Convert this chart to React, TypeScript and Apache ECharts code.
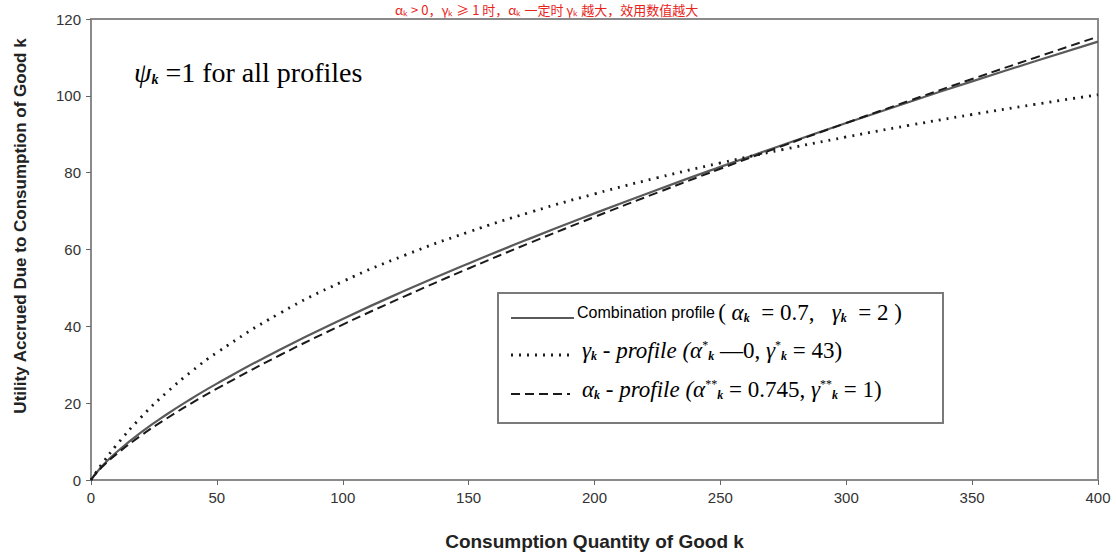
import React, { useEffect, useRef } from "react";
import * as echarts from "echarts";

const xValues = [0, 1, 2, 5, 10, 20, 30, 40, 50, 75, 100, 125, 150, 175, 200, 225, 250, 275, 300, 325, 350, 375, 400];
const combinationProfile = [0, 0.94, 1.78, 4.01, 7.16, 12.45, 17.04, 21.21, 25.09, 33.93, 41.94, 49.37, 56.37, 63.03, 69.4, 75.57, 81.51, 87.28, 92.91, 98.4, 103.77, 109.0, 114.1];
const gammaProfile = [0, 0.99, 1.96, 4.73, 8.99, 16.42, 22.76, 28.28, 33.17, 43.41, 51.67, 58.6, 64.56, 69.8, 74.47, 78.68, 82.52, 86.04, 89.29, 92.32, 95.14, 97.79, 100.27];
const alphaProfile = [0, 0.91, 1.7, 3.76, 6.67, 11.63, 15.99, 20.01, 23.78, 32.47, 40.45, 47.93, 55.06, 61.88, 68.46, 74.81, 81.01, 87.04, 92.94, 98.71, 104.38, 109.93, 115.4];

const xTicks = [0, 50, 100, 150, 200, 250, 300, 350, 400];
const yTicks = [0, 20, 40, 60, 80, 100, 120];

const narrow = '"Liberation Sans Narrow", "Arial Narrow", "Liberation Sans", Arial, sans-serif';
const serif = '"Liberation Serif", "Times New Roman", "DejaVu Serif", serif';

const pairs = (ys: number[]) => xValues.map((x, i) => [x, ys[i]]);

const richStyles: any = {
  a: { fontFamily: narrow, fontSize: 16, color: "#333" },
  s: { fontFamily: serif, fontSize: 23, color: "#222" },
  i: { fontFamily: serif, fontSize: 23, fontStyle: "italic", color: "#222" },
  sub: { fontFamily: serif, fontSize: 12, fontStyle: "italic", fontWeight: "bold", color: "#222", verticalAlign: "bottom", padding: [10, 0, 0, 0] },
  sup: { fontFamily: serif, fontSize: 12, color: "#222", verticalAlign: "top", padding: [0, 0, 10, 0] },
  p: { fontFamily: serif, fontSize: 28, fontStyle: "italic", color: "#222" },
  pt: { fontFamily: serif, fontSize: 28, color: "#222" },
  psub: { fontFamily: serif, fontSize: 14, fontStyle: "italic", fontWeight: "bold", color: "#222", verticalAlign: "bottom", padding: [12, 0, 0, 0] },
};

export default function App() {
  const ref = useRef<HTMLDivElement>(null);
  useEffect(() => {
    document.body.style.margin = "0";
    const chart = echarts.init(ref.current!, null, { renderer: "svg" });
    const lineSeries = (name: string, data: number[], color: string, type: any, width: number) => ({
      name,
      type: "line",
      data: pairs(data),
      smooth: true,
      showSymbol: false,
      lineStyle: { color, type, width },
    });
    chart.setOption({
      animation: false,
      backgroundColor: "#fff",
      grid: { left: 91, right: 18, top: 19, bottom: 70, show: true, borderColor: "#8a8a8a", borderWidth: 2 },
      xAxis: {
        type: "value",
        min: 0,
        max: 400,
        interval: 50,
        name: "Consumption Quantity of Good k",
        nameLocation: "middle",
        nameGap: 52,
        nameTextStyle: { fontFamily: narrow, fontWeight: "bold", fontSize: 19, color: "#222" },
        axisLine: { show: true, lineStyle: { color: "#8a8a8a", width: 2 } },
        axisTick: { show: true, length: 5, lineStyle: { color: "#666" } },
        axisLabel: { fontFamily: narrow, fontSize: 15, color: "#333", margin: 10, formatter: (v: number) => (xTicks.includes(v) ? String(v) : "") },
        splitLine: { show: false },
      },
      yAxis: {
        type: "value",
        min: 0,
        max: 120,
        interval: 20,
        axisLine: { show: true, lineStyle: { color: "#8a8a8a", width: 2 } },
        axisTick: { show: true, length: 5, lineStyle: { color: "#666" } },
        axisLabel: { fontFamily: narrow, fontSize: 15, color: "#333", margin: 10, formatter: (v: number) => (yTicks.includes(v) ? String(v) : "") },
        splitLine: { show: false },
      },
      series: [
        lineSeries("Combination profile", combinationProfile, "#5a5a5a", "solid", 2.2),
        lineSeries("γk - profile", gammaProfile, "#1a1a1a", [2, 6], 2.8),
        lineSeries("αk - profile", alphaProfile, "#1a1a1a", [9, 5], 2),
      ],
      graphic: [
        {
          type: "text",
          x: 20,
          y: 226,
          rotation: Math.PI / 2,
          style: {
            text: "Utility Accrued Due to Consumption of Good k",
            fontFamily: narrow,
            fontWeight: "bold",
            fontSize: 17,
            fill: "#222",
            align: "center",
            verticalAlign: "middle",
          },
        },
        {
          type: "text",
          left: 395,
          top: 3,
          style: {
            text: "αₖ > 0，γₖ ≥ 1 时，αₖ 一定时 γₖ 越大，效用数值越大",
            fontFamily: '"Noto Sans CJK SC", sans-serif',
            fontSize: 13,
            fill: "#e8231a",
          },
        },
        {
          type: "text",
          left: 134,
          top: 58,
          style: {
            text: "{p|ψ}{psub|k}{pt| =1 for all profiles}",
            rich: richStyles,
          },
        },
        {
          type: "rect",
          shape: { x: 498, y: 293, width: 445, height: 130 },
          style: { fill: "#fff", stroke: "#7a7a7a", lineWidth: 2 },
        },
        { type: "line", shape: { x1: 511, y1: 318, x2: 574, y2: 318 }, style: { stroke: "#5a5a5a", lineWidth: 2.2 } },
        { type: "line", shape: { x1: 511, y1: 355, x2: 570, y2: 355 }, style: { stroke: "#1a1a1a", lineWidth: 2.8, lineDash: [2, 6] } },
        { type: "line", shape: { x1: 511, y1: 394, x2: 570, y2: 394 }, style: { stroke: "#1a1a1a", lineWidth: 2, lineDash: [9, 5] } },
        {
          type: "text",
          left: 577,
          top: 301,
          style: {
            text: "{a|Combination profile} {s|(}{i| α}{sub|k}{s|  = 0.7,   }{i|γ}{sub|k}{s|  = 2 )}",
            rich: richStyles,
          },
        },
        {
          type: "text",
          left: 582,
          top: 339,
          style: {
            text: "{i|γ}{sub|k}{i| - profile (α}{sup|*}{sub|k}{s| —0, }{i|γ}{sup|*}{sub|k}{s| = 43)}",
            rich: richStyles,
          },
        },
        {
          type: "text",
          left: 582,
          top: 378,
          style: {
            text: "{i|α}{sub|k}{i| - profile (α}{sup|**}{sub|k}{s| = 0.745, }{i|γ}{sup|**}{sub|k}{s| = 1)}",
            rich: richStyles,
          },
        },
      ],
    });
    return () => chart.dispose();
  }, []);
  return <div ref={ref} style={{ width: 1116, height: 556 }} />;
}
